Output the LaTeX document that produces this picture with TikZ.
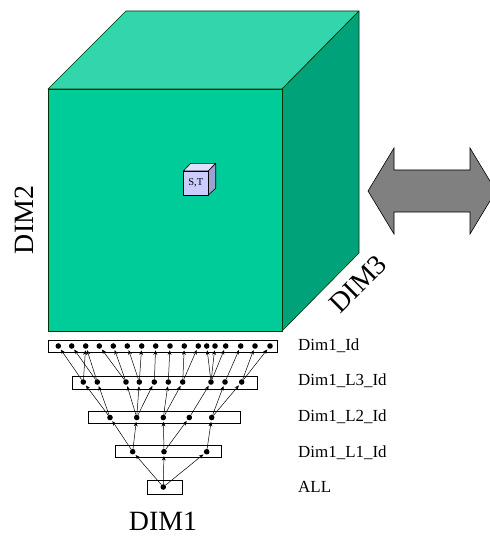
\documentclass[tikz,border=0pt]{standalone}
\usepackage{fontspec}
\setmainfont{Liberation Serif}
\usetikzlibrary{arrows.meta}
\definecolor{cfront}{RGB}{0,204,153}
\definecolor{ctop}{RGB}{51,214,172}
\definecolor{cside}{RGB}{0,162,122}
\definecolor{sfront}{RGB}{204,204,255}
\definecolor{stop}{RGB}{225,225,255}
\definecolor{sside}{RGB}{160,160,208}
\definecolor{agray}{RGB}{128,128,128}
\tikzset{
  face/.style={draw=black!80!green, line width=0.6pt, line join=round},
  sface/.style={draw=black, line width=0.6pt, line join=round},
  bar/.style={draw=black, line width=0.8pt, fill=white},
  dot/.style={circle, fill=black, inner sep=0pt, minimum size=5.6pt},
  arr/.style={-{Stealth[length=4.5pt,width=3.8pt]}, line width=0.5pt, shorten >=1.4pt},
  lvl/.style={anchor=west, font=\fontsize{17}{19}\selectfont, inner sep=0pt},
  big/.style={font=\fontsize{28}{30}\selectfont, inner sep=0pt}
}
\begin{document}
\begin{tikzpicture}[x=1bp,y=-1bp]
\useasboundingbox (0,0) rectangle (490,546);
\clip (0,0) rectangle (490,546);
% big cube
\filldraw[face, fill=ctop] (48,89) -- (126,11) -- (359,11) -- (282,89) -- cycle;
\filldraw[face, fill=cside] (282,89) -- (359,11) -- (359,253) -- (282,331) -- cycle;
\filldraw[face, fill=cfront] (48,89) rectangle (282,331);
% small cube
\filldraw[sface, fill=stop] (183.3,171) -- (190.7,163.3) -- (215.7,163.3) -- (208.3,171) -- cycle;
\filldraw[sface, fill=sside] (208.3,171) -- (215.7,163.3) -- (215.7,188.3) -- (208.3,195) -- cycle;
\filldraw[sface, fill=sfront] (183.3,171) rectangle (208.3,195);
\node[inner sep=0pt, font=\fontsize{10.5}{11}\selectfont] (st) at (195.8,183) {S,T};
% double arrow
\filldraw[draw=black, line width=0.6pt, fill=agray, line join=miter]
  (368,191) -- (394,148) -- (394,170) -- (470,170) -- (470,148) -- (496,191)
  -- (470,234) -- (470,212) -- (394,212) -- (394,234) -- cycle;
% axis labels
\node[big, rotate=90] (dim2) at (24,220) {DIM2};
\node[big, rotate=45] (dim3) at (358,284) {DIM3};
\node[big] (dim1) at (163,521) {DIM1};
% bars
\draw[bar] (48.3,340.7) rectangle (277,352.3);
\draw[bar] (72.3,376.7) rectangle (257.7,389);
\draw[bar] (88.3,411.7) rectangle (240,423.3);
\draw[bar] (115,445.7) rectangle (221.7,457.7);
\draw[bar] (147.7,480.7) rectangle (182.7,494.3);
% level labels
\node[lvl] (l0) at (298,345.5) {Dim1\_Id};
\node[lvl] (l3) at (298,380.5) {Dim1\_L3\_Id};
\node[lvl] (l2) at (298,416.5) {Dim1\_L2\_Id};
\node[lvl] (l1) at (298,453) {Dim1\_L1\_Id};
\node[lvl] (la) at (298,487) {ALL};
% top dots
\foreach \i/\x in {1/58.3,2/71.7,3/85.7,4/99.3,5/113.3,6/127.3,7/141.7,8/155.7,9/170,10/184.3,11/198.3,12/206.7,13/215,14/225.7,15/240.7,16/255,17/270}
  \node[dot] (t\i) at (\x,346) {};
% L3 dots
\foreach \i/\x in {1/83.3,2/97.3,3/126,4/139.3,5/154.3,6/168.3,7/182.7,8/211,9/225,10/241.7}
  \node[dot] (m\i) at (\x,382) {};
% L2 dots
\foreach \i/\x in {1/110,2/136.7,3/163.3,4/189.3,5/211.7}
  \node[dot] (n\i) at (\x,417.5) {};
% L1 dots
\foreach \i/\x in {1/132.7,2/164,3/206.7}
  \node[dot] (p\i) at (\x,451.7) {};
\node[dot] (a) at (163.3,487) {};
% connectors
\foreach \lo/\up in {m1/t1,m1/t3,m2/t2,m2/t3,m3/t4,m3/t5,m4/t6,m4/t7,m5/t8,m6/t9,m7/t10,m7/t11,m8/t12,m8/t13,m8/t14,m9/t15,m10/t16,m10/t17,
  n1/m1,n1/m2,n2/m3,n2/m4,n2/m5,n3/m6,n3/m7,n4/m8,n5/m9,n5/m10,
  p1/n1,p1/n2,p2/n3,p2/n4,p3/n5,
  a/p1,a/p2,a/p3}
  \draw[arr] (\lo) -- (\up);
\end{tikzpicture}
\end{document}
